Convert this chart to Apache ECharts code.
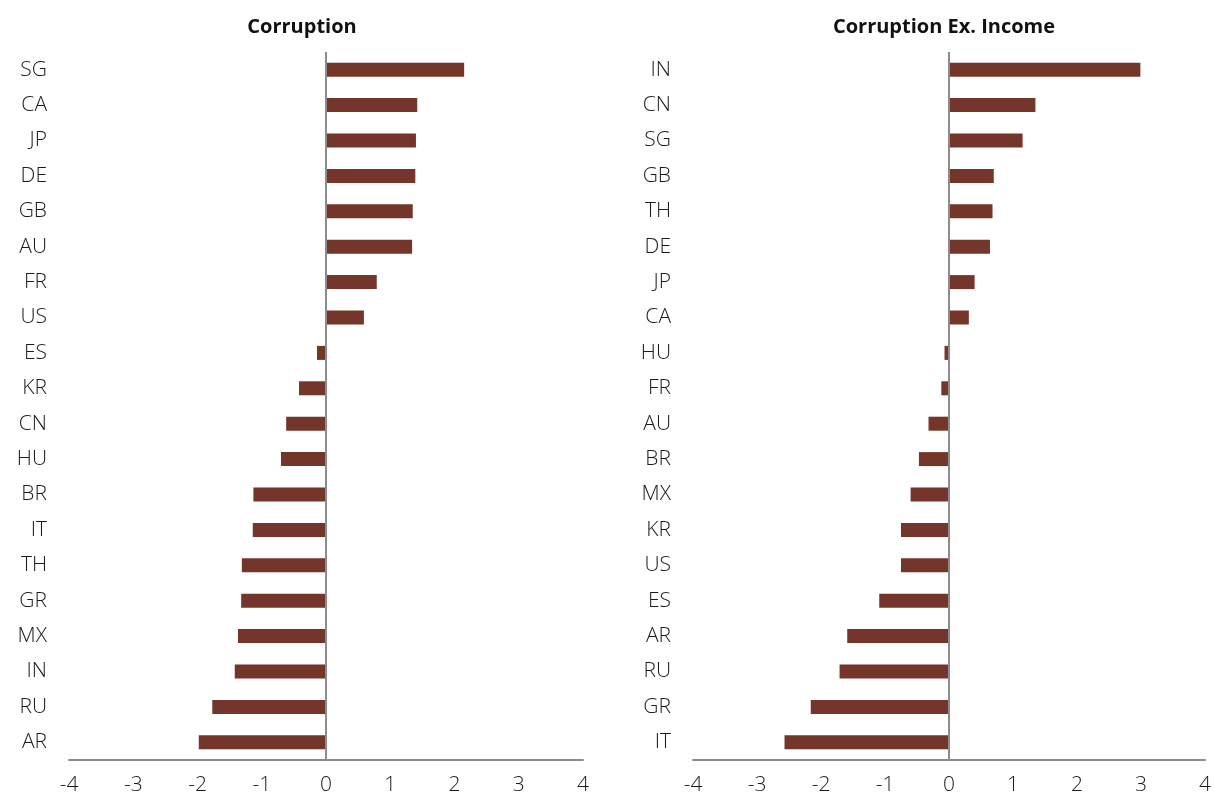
<!DOCTYPE html>
<html lang="en">
<head>
    <meta charset="UTF-8">
    <title>Corruption</title>
    <script src="https://cdn.jsdelivr.net/npm/echarts@6/dist/echarts.min.js"></script>
    <style>
        html, body { margin: 0; padding: 0; background: #fff; }
    </style>
</head>
<body>
<div id="main" style="width: 1214px;height:799px;"></div>
<script>
    // left panel
    var leftCats = ['SG','CA','JP','DE','GB','AU','FR','US','ES','KR','CN','HU','BR','IT','TH','GR','MX','IN','RU','AR'];
    var leftVals = [2.15,1.42,1.40,1.39,1.35,1.34,0.79,0.59,-0.14,-0.42,-0.62,-0.70,-1.13,-1.14,-1.31,-1.32,-1.37,-1.42,-1.77,-1.98];
    // right panel
    var rightCats = ['IN','CN','SG','GB','TH','DE','JP','CA','HU','FR','AU','BR','MX','KR','US','ES','AR','RU','GR','IT'];
    var rightVals = [2.99,1.35,1.15,0.70,0.68,0.64,0.40,0.31,-0.07,-0.12,-0.32,-0.47,-0.60,-0.75,-0.75,-1.09,-1.59,-1.71,-2.16,-2.57];
    var titles = ['Corruption', 'Corruption Ex. Income'];

    var barColor = '#74352a';
    var axisGray = '#8c8c8c';
    var font = '"Open Sans", Lato, sans-serif';

    function xAx(idx) {
        return {
            type: 'value', gridIndex: idx, min: -4, max: 4, interval: 1,
            splitLine: {show: false},
            axisTick: {show: false},
            axisLine: {show: true, onZero: false, lineStyle: {color: axisGray, width: 2}},
            axisLabel: {color: '#1a1a1a', fontSize: 21, fontFamily: font, fontWeight: 300, margin: 15}
        };
    }
    function yAx(idx, cats) {
        return {
            type: 'category', gridIndex: idx, data: cats, inverse: true,
            axisLine: {show: false},
            axisTick: {show: false},
            axisLabel: {color: '#1a1a1a', fontSize: 21, fontFamily: font, fontWeight: 300, margin: 22}
        };
    }
    function bars(idx, vals) {
        return {
            type: 'bar', xAxisIndex: idx, yAxisIndex: idx, data: vals,
            barWidth: 14,
            itemStyle: {color: barColor},
            markLine: {
                silent: true, symbol: 'none', label: {show: false},
                lineStyle: {color: axisGray, width: 2, type: 'solid'},
                data: [{xAxis: 0}]
            }
        };
    }

    var myChart = echarts.init(document.getElementById('main'));
    var option = {
        backgroundColor: '#fff',
        animation: false,
        title: [
            {text: titles[0], left: 297, top: 12, textAlign: 'center',
                textStyle: {fontSize: 20, fontWeight: 'bold', color: '#111', fontFamily: font}},
            {text: titles[1], left: 939, top: 12, textAlign: 'center',
                textStyle: {fontSize: 20, fontWeight: 'bold', color: '#111', fontFamily: font}}
        ],
        grid: [
            {left: 69, width: 514, top: 52, bottom: 39},
            {left: 693, width: 514, top: 52, bottom: 39}
        ],
        xAxis: [xAx(0), xAx(1)],
        yAxis: [yAx(0, leftCats), yAx(1, rightCats)],
        series: [bars(0, leftVals), bars(1, rightVals)]
    };
    myChart.setOption(option);
</script>
</body>
</html>
